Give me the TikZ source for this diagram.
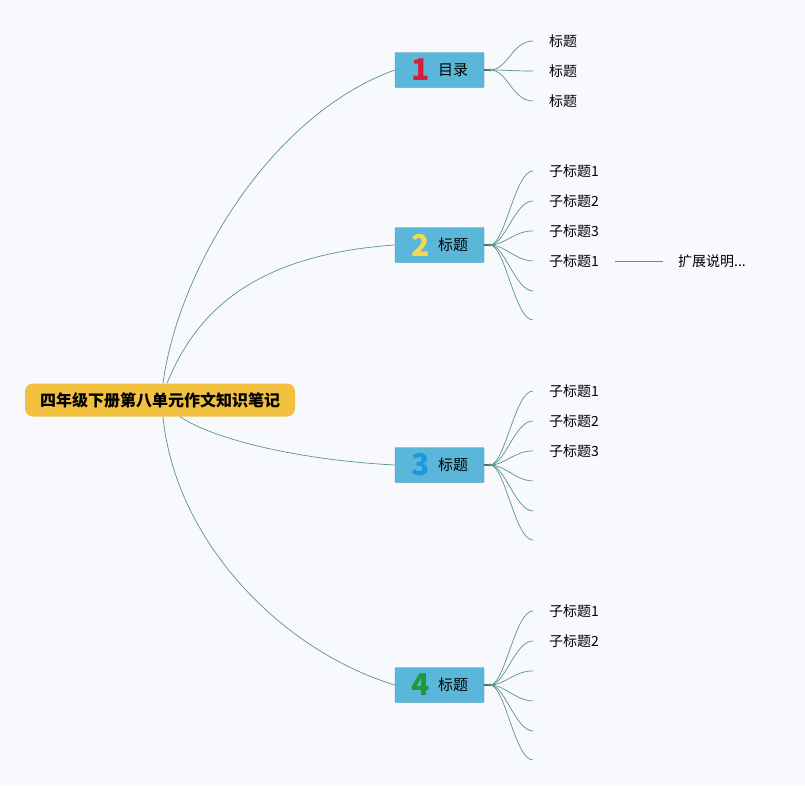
\documentclass[tikz,border=0pt]{standalone}
\usepackage{fontspec}
\newfontfamily\cjk{Noto Sans CJK SC}
\definecolor{bg}{RGB}{247,249,253}
\definecolor{rootfill}{RGB}{242,193,64}
\definecolor{boxfill}{RGB}{91,183,218}
\definecolor{boxline}{RGB}{72,150,178}
\definecolor{wirecol}{RGB}{90,148,132}
\definecolor{numa}{RGB}{214,30,58}
\definecolor{numb}{RGB}{244,216,82}
\definecolor{numc}{RGB}{30,150,224}
\definecolor{numd}{RGB}{30,154,54}
\tikzset{
  rootbox/.style={fill=rootfill, rounded corners=8pt, minimum width=270pt, minimum height=33pt,
    font=\cjk\bfseries\fontsize{16pt}{18pt}\selectfont},
  topic/.style={fill=boxfill, draw=boxline, rounded corners=1pt, minimum width=89pt, minimum height=35pt},
  num/.style={inner sep=0pt, font=\cjk\bfseries\fontsize{30pt}{32pt}\selectfont},
  title/.style={inner sep=0pt, font=\cjk\fontsize{15pt}{17pt}\selectfont},
  leaf/.style={anchor=west, inner xsep=16pt, inner ysep=0pt, font=\cjk\fontsize{14pt}{16pt}\selectfont},
  wire/.style={draw=wirecol, line width=0.7pt},
  hub/.style={wirecol!80!black, line width=1.6pt},
}
\begin{document}
\begin{tikzpicture}[x=1pt,y=-1pt]
\fill[bg] (0,0) rectangle (805,785);
\useasboundingbox (0,0) rectangle (805,785);

\node[rootbox] (root) at (160,400) {四年级下册第八单元作文知识笔记};

\node[topic] (t1) at (439.5,70) {};
\node[num, text=numa] (n1) at (421,70) {1};
\node[title] (s1) at (453,70) {目录};
\node[topic] (t2) at (439.5,245) {};
\node[num, text=numb] (n2) at (421,245) {2};
\node[title] (s2) at (453,245) {标题};
\node[topic] (t3) at (439.5,465) {};
\node[num, text=numc] (n3) at (421,465) {3};
\node[title] (s3) at (453,465) {标题};
\node[topic] (t4) at (439.5,685) {};
\node[num, text=numd] (n4) at (421,685) {4};
\node[title] (s4) at (453,685) {标题};

\draw[wire] ([xshift=3pt]root.north) .. controls (178,270) and (270,115) .. (t1.west);
\draw[wire] ([xshift=7pt]root.north) .. controls (195,315) and (250,255) .. (t2.west);
\draw[wire] ([xshift=20pt]root.south) .. controls (215,440) and (300,460) .. (t3.west);
\draw[wire] ([xshift=3pt]root.south) .. controls (175,540) and (280,650) .. (t4.west);

\coordinate (j1) at (490,70);
\coordinate (j2) at (490,245);
\coordinate (j3) at (490,465);
\coordinate (j4) at (490,685);
\foreach \j in {1,2,3,4}{
  \draw[hub] (t\j.east) -- (j\j);
  \fill[wirecol] (j\j) circle (1.6pt);
}

\node[leaf] (l11) at (533,41) {标题};
\node[leaf] (l12) at (533,71) {标题};
\node[leaf] (l13) at (533,101) {标题};

\node[leaf] (l21) at (533,171) {子标题1};
\node[leaf] (l22) at (533,201) {子标题2};
\node[leaf] (l23) at (533,231) {子标题3};
\node[leaf] (l24) at (533,261) {子标题1};
\node[leaf] (l25) at (533,291) {};
\node[leaf] (l26) at (533,320) {};
\node[leaf, inner xsep=15pt] (x24) at (663,261) {扩展说明...};
\draw[wire] (l24.east) -- (x24.west);

\node[leaf] (l31) at (533,391) {子标题1};
\node[leaf] (l32) at (533,421) {子标题2};
\node[leaf] (l33) at (533,451) {子标题3};
\node[leaf] (l34) at (533,481) {};
\node[leaf] (l35) at (533,511) {};
\node[leaf] (l36) at (533,540) {};

\node[leaf] (l41) at (533,611) {子标题1};
\node[leaf] (l42) at (533,641) {子标题2};
\node[leaf] (l43) at (533,671) {};
\node[leaf] (l44) at (533,701) {};
\node[leaf] (l45) at (533,731) {};
\node[leaf] (l46) at (533,760) {};

\foreach \i in {1,2,3}
  \draw[wire] (j1) .. controls (508,70) and (512,\i*30+11) .. (l1\i.west);
\foreach \b/\y in {2/245,3/465,4/685}
  \foreach \i in {1,...,6}
    \draw[wire] (j\b) .. controls (505,\y) and (515,\y-104+\i*30-\i/6) .. (l\b\i.west);
\end{tikzpicture}
\end{document}
